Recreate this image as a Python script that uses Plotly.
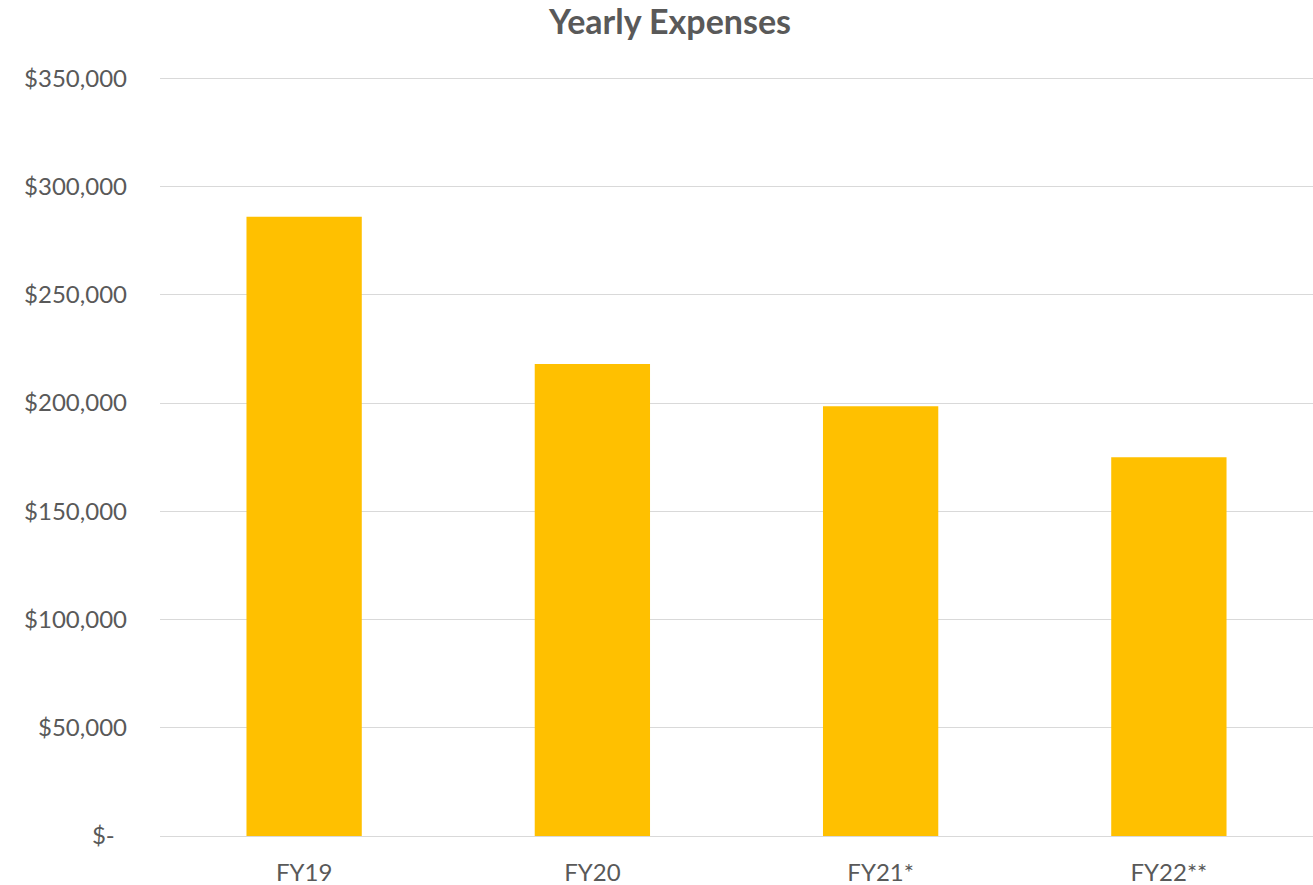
import plotly.graph_objects as go

categories = ["FY19", "FY20", "FY21*", "FY22**"]
expenses = [286000, 218000, 198500, 175000]
tick_values = [0, 50000, 100000, 150000, 200000, 250000, 300000, 350000]
tick_labels = ["$-\u00a0\u00a0", "$50,000", "$100,000", "$150,000", "$200,000",
               "$250,000", "$300,000", "$350,000"]

FONT = "Lato, Open Sans, sans-serif"
TXT = "#595959"

fig = go.Figure(go.Bar(x=categories, y=expenses, marker_color="#FFC000",
                       marker_line_width=0, hoverinfo="x+y"))

fig.update_layout(
    width=1313, height=885,
    paper_bgcolor="white", plot_bgcolor="white",
    margin=dict(l=160, r=0, t=77, b=49),
    bargap=0.6,
    showlegend=False,
    font=dict(family=FONT, color=TXT, size=24),
    title=dict(text="<b>Yearly Expenses</b>", x=670/1313, xanchor="center", xref="container",
               y=1 - 22/885, yanchor="middle", font=dict(size=34, color=TXT, family=FONT)),
)
fig.update_yaxes(range=[0, 350600], tickvals=tick_values, ticktext=tick_labels,
                 showgrid=True, gridcolor="#D9D9D9", gridwidth=1.3, zeroline=False,
                 ticks="", ticklabelstandoff=32, showline=False)
fig.update_xaxes(showline=True, linecolor="#D9D9D9", linewidth=1.3, ticks="",
                 ticklabelstandoff=15, showgrid=False)

fig.write_html("out.html", config={"displayModeBar": False},
               post_script="document.body.style.margin='0';document.body.style.overflow='hidden';")
